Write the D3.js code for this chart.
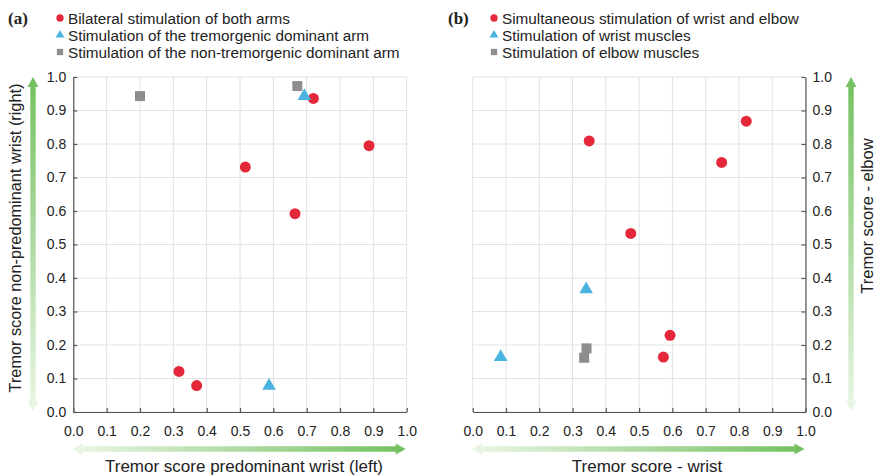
<!DOCTYPE html>
<html>
<head>
<meta charset="utf-8">
<script src="https://cdn.jsdelivr.net/npm/d3@7"></script>
<style>
  html, body { margin: 0; padding: 0; background: #fff; }
  svg { display: block; font-family: "Liberation Sans", Arial, sans-serif; }
</style>
</head>
<body>
<svg id="chart" width="877" height="476"></svg>
<script>
// ---- Data ----
const ticks = [0, 0.1, 0.2, 0.3, 0.4, 0.5, 0.6, 0.7, 0.8, 0.9, 1.0];

// Panel (a): predominant wrist (left) vs non-predominant wrist (right)
const aLabels = [
  "Bilateral stimulation of both arms",
  "Stimulation of the tremorgenic dominant arm",
  "Stimulation of the non-tremorgenic dominant arm"
];
const aBilateralX = [0.72, 0.887, 0.516, 0.665, 0.317, 0.37];
const aBilateralY = [0.936, 0.795, 0.731, 0.592, 0.121, 0.079];
const aTremorgenicX = [0.693, 0.587];
const aTremorgenicY = [0.943, 0.078];
const aNonTremorgenicX = [0.20, 0.672];
const aNonTremorgenicY = [0.943, 0.973];

// Panel (b): wrist vs elbow
const bLabels = [
  "Simultaneous stimulation of wrist and elbow",
  "Stimulation of wrist muscles",
  "Stimulation of elbow muscles"
];
const bSimultaneousX = [0.822, 0.35, 0.748, 0.475, 0.593, 0.573];
const bSimultaneousY = [0.868, 0.809, 0.745, 0.533, 0.229, 0.164];
const bWristX = [0.341, 0.084];
const bWristY = [0.366, 0.164];
const bElbowX = [0.342, 0.335];
const bElbowY = [0.19, 0.162];

// ---- Styles ----
const colors = ["#e4283a", "#4bb3e0", "#8d8d8f"];
const symbols = [d3.symbolCircle, d3.symbolTriangle, d3.symbolSquare];
const markSizes = [95, 80, 100];
const legendSizes = [42, 34, 40];
const textColor = "#222";
const gridColor = "#e2e2e2";
const axisColor = "#555";

const svg = d3.select("#chart");
const defs = svg.append("defs");

// Gradients for the green double-headed arrows (pale at low end, saturated at high end)
function gradient(id, x1, y1, x2, y2) {
  const g = defs.append("linearGradient").attr("id", id)
    .attr("x1", x1).attr("y1", y1).attr("x2", x2).attr("y2", y2);
  g.append("stop").attr("offset", "0%").attr("stop-color", "#eaf6e5");
  g.append("stop").attr("offset", "100%").attr("stop-color", "#72c05f");
}
gradient("gradUp", "0", "1", "0", "0");
gradient("gradRight", "0", "0", "1", "0");

function vArrow(x, yTop, yBottom) {
  const hw = 2.7, hh = 5.5, hl = 10;
  const p = d3.path();
  p.moveTo(x, yTop);
  p.lineTo(x + hh, yTop + hl);
  p.lineTo(x + hw, yTop + hl);
  p.lineTo(x + hw, yBottom - hl);
  p.lineTo(x + hh, yBottom - hl);
  p.lineTo(x, yBottom);
  p.lineTo(x - hh, yBottom - hl);
  p.lineTo(x - hw, yBottom - hl);
  p.lineTo(x - hw, yTop + hl);
  p.lineTo(x - hh, yTop + hl);
  p.closePath();
  svg.append("path").attr("d", p.toString()).attr("fill", "url(#gradUp)");
}
function hArrow(y, xLeft, xRight) {
  const hw = 2.7, hh = 5.5, hl = 10;
  const p = d3.path();
  p.moveTo(xRight, y);
  p.lineTo(xRight - hl, y - hh);
  p.lineTo(xRight - hl, y - hw);
  p.lineTo(xLeft + hl, y - hw);
  p.lineTo(xLeft + hl, y - hh);
  p.lineTo(xLeft, y);
  p.lineTo(xLeft + hl, y + hh);
  p.lineTo(xLeft + hl, y + hw);
  p.lineTo(xRight - hl, y + hw);
  p.lineTo(xRight - hl, y + hh);
  p.closePath();
  svg.append("path").attr("d", p.toString()).attr("fill", "url(#gradRight)");
}

function panel(opts) {
  const x = d3.scaleLinear().domain([0, 1]).range(opts.xRange);
  const y = d3.scaleLinear().domain([0, 1]).range([412, 77]);
  const g = svg.append("g");

  // Grid
  g.append("g").selectAll("line.v").data(ticks).join("line")
    .attr("x1", d => x(d)).attr("x2", d => x(d))
    .attr("y1", y(0)).attr("y2", y(1))
    .attr("stroke", gridColor).attr("stroke-width", 1);
  g.append("g").selectAll("line.h").data(ticks).join("line")
    .attr("x1", x(0)).attr("x2", x(1))
    .attr("y1", d => y(d)).attr("y2", d => y(d))
    .attr("stroke", gridColor).attr("stroke-width", 1);

  // Axes (ticks pointing into the plot)
  const xAxis = d3.axisBottom(x).tickValues(ticks).tickFormat(d3.format(".1f"))
    .tickSizeInner(-4).tickSizeOuter(0).tickPadding(14);
  const gx = g.append("g").attr("transform", `translate(0,${y(0)})`).call(xAxis);

  const yAxis = (opts.yRight ? d3.axisRight(y) : d3.axisLeft(y))
    .tickValues(ticks).tickFormat(d3.format(".1f"))
    .tickSizeInner(-4).tickSizeOuter(0).tickPadding(7);
  const yPos = opts.yRight ? x(1) : x(0);
  const gy = g.append("g").attr("transform", `translate(${yPos},0)`).call(yAxis);

  [gx, gy].forEach(a => {
    a.select(".domain").attr("stroke", axisColor).attr("stroke-width", 1.2);
    a.selectAll(".tick line").attr("stroke", axisColor).attr("stroke-width", 1.2);
    a.selectAll(".tick text").attr("fill", textColor)
      .style("font-size", "14px").style("font-family", "'Liberation Sans', Arial, sans-serif");
  });

  // Data marks
  opts.series.forEach((s, i) => {
    g.append("g").selectAll("path").data(s.xs.map((v, j) => [v, s.ys[j]])).join("path")
      .attr("transform", d => `translate(${x(d[0])},${y(d[1])})`)
      .attr("d", d3.symbol().type(symbols[i]).size(markSizes[i]))
      .attr("fill", colors[i]);
  });

  // Legend
  const lg = svg.append("g");
  lg.append("text").attr("x", opts.tagX).attr("y", 24).text(opts.tag)
    .attr("fill", textColor).style("font-family", "'Liberation Serif', 'Times New Roman', serif")
    .style("font-weight", "bold").style("font-size", "17px");
  opts.labels.forEach((lab, i) => {
    const ly = 18 + i * 17;
    lg.append("path").attr("transform", `translate(${opts.legendX},${ly})`)
      .attr("d", d3.symbol().type(symbols[i]).size(legendSizes[i]))
      .attr("fill", colors[i]);
    lg.append("text").attr("x", opts.legendX + 8).attr("y", ly + 5.5).text(lab)
      .attr("fill", textColor).style("font-size", "15.3px");
  });

  // Axis titles
  svg.append("text").attr("x", (x(0) + x(1)) / 2 + opts.xTitleShift).attr("y", 472)
    .attr("text-anchor", "middle").attr("fill", textColor)
    .style("font-size", "17px").text(opts.xTitle);
  svg.append("text")
    .attr("transform", `translate(${opts.yTitleX},${opts.yTitleY}) rotate(-90)`)
    .attr("text-anchor", "middle").attr("fill", textColor)
    .style("font-size", opts.yTitleSize).text(opts.yTitle);

  // Green direction arrows
  vArrow(opts.arrowX, y(1), y(0) - 1);
  hArrow(449, x(0) - 1, x(1) - 1);
}

panel({
  xRange: [73.3, 406.7],
  yRight: false,
  tag: "(a)", tagX: 8, legendX: 60,
  labels: aLabels,
  series: [
    { xs: aBilateralX, ys: aBilateralY },
    { xs: aTremorgenicX, ys: aTremorgenicY },
    { xs: aNonTremorgenicX, ys: aNonTremorgenicY }
  ],
  xTitle: "Tremor score predominant wrist (left)", xTitleShift: 4,
  yTitle: "Tremor score non-predominant wrist (right)", yTitleSize: "16.3px",
  yTitleX: 21, yTitleY: 238,
  arrowX: 33
});

panel({
  xRange: [472.7, 805.5],
  yRight: true,
  tag: "(b)", tagX: 448, legendX: 494,
  labels: bLabels,
  series: [
    { xs: bSimultaneousX, ys: bSimultaneousY },
    { xs: bWristX, ys: bWristY },
    { xs: bElbowX, ys: bElbowY }
  ],
  xTitle: "Tremor score - wrist", xTitleShift: 8,
  yTitle: "Tremor score - elbow", yTitleSize: "16.5px",
  yTitleX: 873, yTitleY: 216,
  arrowX: 851
});
</script>
</body>
</html>
